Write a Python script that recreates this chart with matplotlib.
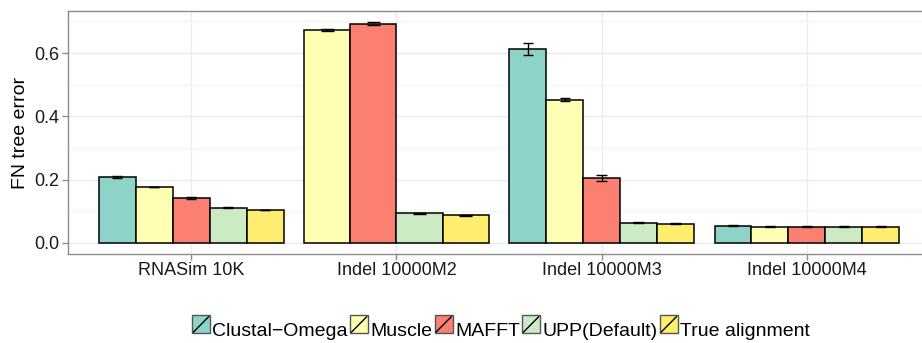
import numpy as np
import matplotlib
matplotlib.use("Agg")
import matplotlib.pyplot as plt
from matplotlib.patches import Rectangle
from matplotlib.lines import Line2D
from matplotlib.legend_handler import HandlerBase

plt.rcParams['font.family'] = ['Liberation Sans', 'DejaVu Sans']

# data sets and methods
datasets = ["RNASim 10K", "Indel 10000M2", "Indel 10000M3", "Indel 10000M4"]
methods = ["Clustal\u2212Omega", "Muscle", "MAFFT", "UPP(Default)", "True alignment"]
colors = ["#8DD3C7", "#FFFFB3", "#FB8072", "#CCEBC5", "#FFED6F"]

# mean FN error per data set (rows) and method (cols); nan = no result
fn_error = np.array([
    [0.207, 0.177, 0.142, 0.112, 0.104],
    [np.nan, 0.673, 0.693, 0.0935, 0.087],
    [0.613, 0.452, 0.206, 0.064, 0.061],
    [0.0547, 0.0510, 0.0515, 0.0510, 0.0510],
])
fn_se = np.array([
    [0.003, 0.001, 0.002, 0.001, 0.001],
    [np.nan, 0.002, 0.005, 0.001, 0.001],
    [0.020, 0.005, 0.010, 0.001, 0.001],
    [0.001, 0.001, 0.001, 0.001, 0.001],
])

W, H = 922, 343
fig = plt.figure(figsize=(W / 100, H / 100), dpi=100)
# panel runs a little past the right edge of the figure
ax = fig.add_axes([68 / W, 1 - 254 / H, 862 / W, 243 / H])

for gi, ds in enumerate(datasets):
    ok = [mi for mi in range(len(methods)) if not np.isnan(fn_error[gi, mi])]
    bw = 0.9 / len(ok)
    for k, mi in enumerate(ok):
        x = gi + 1 - 0.45 + bw * (k + 0.5)
        v, e = fn_error[gi, mi], fn_se[gi, mi]
        ax.bar(x, v, width=bw, color=colors[mi], edgecolor="black",
               linewidth=1.1, zorder=3)
        cw = bw * 0.14
        ax.vlines(x, v - e, v + e, color="black", linewidth=1.0, zorder=4)
        ax.hlines([v - e, v + e], x - cw, x + cw, color="black",
                  linewidth=1.0, zorder=4)

ax.set_xlim(0.4, 4.6)
top = np.nanmax(fn_error + fn_se)
ax.set_ylim(-0.05 * top, top * 1.05)
ax.set_xticks(range(1, len(datasets) + 1))
ax.set_xticklabels(datasets)
ax.set_yticks([0.0, 0.2, 0.4, 0.6])
ax.set_yticks([0.1, 0.3, 0.5, 0.7], minor=True)
ax.yaxis.set_major_formatter(matplotlib.ticker.FormatStrFormatter('%.1f'))
ax.grid(True, which="major", color="#ebebeb", linewidth=1.0, zorder=0)
ax.grid(True, which="minor", axis="y", color="#f5f5f5", linewidth=0.9, zorder=0)
ax.set_axisbelow(True)
for s in ax.spines.values():
    s.set_color("#8c8c8c")
    s.set_linewidth(1.0)
ax.tick_params(axis="both", which="major", length=4, width=1.0, color="#8c8c8c",
               labelsize=13, labelcolor="#1a1a1a", pad=2)
ax.tick_params(axis="both", which="minor", length=0)
ax.set_ylabel("FN tree error", fontsize=14, color="black", labelpad=4)


class SlashKey(HandlerBase):
    def create_artists(self, legend, orig, xd, yd, width, height, fontsize, trans):
        r = Rectangle((xd, yd), width, height, facecolor=orig.get_facecolor(),
                      edgecolor="#555555", linewidth=1.0, transform=trans)
        ln = Line2D([xd + 1, xd + width - 1], [yd + 1, yd + height - 1],
                    color="black", linewidth=1.0, transform=trans)
        return [r, ln]


handles = [Rectangle((0, 0), 1, 1, facecolor=c) for c in colors]
fig.legend(handles, methods, handler_map={Rectangle: SlashKey()},
           loc="center", bbox_to_anchor=(501 / W, 1 - 330 / H), ncol=5,
           frameon=False, fontsize=14, handlelength=0.92, handleheight=1.05,
           handletextpad=0.12, columnspacing=0.12, borderpad=0)

fig.savefig("out.png", dpi=100)
